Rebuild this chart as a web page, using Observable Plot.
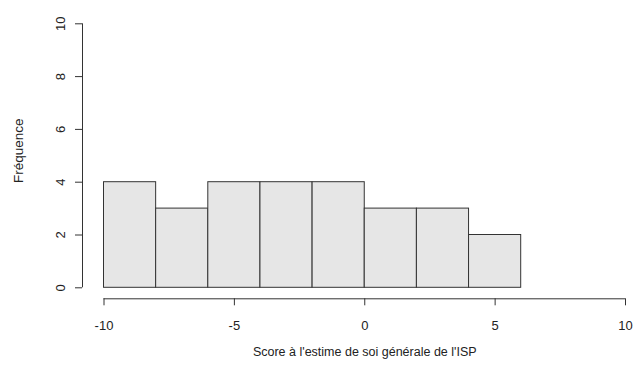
<!DOCTYPE html>
<html>
<head>
<meta charset="utf-8">
<script src="https://cdn.jsdelivr.net/npm/d3@7"></script>
<script src="https://cdn.jsdelivr.net/npm/@observablehq/plot@0.6"></script>
<style>
  html, body { margin: 0; padding: 0; background: #fff; }
  svg { display: block; }
</style>
</head>
<body>
<div id="chart"></div>
<script>
const binStarts = [-10, -8, -6, -4, -2, 0, 2, 4];
const binWidth = 2;
const counts = [4, 3, 4, 4, 4, 3, 3, 2];
const xTicks = [-10, -5, 0, 5, 10];
const yTicks = [0, 2, 4, 6, 8, 10];
const xTitle = "Score à l'estime de soi générale de l'ISP";
const yTitle = "Fréquence";

const bins = binStarts.map((s, i) => ({x1: s, x2: s + binWidth, count: counts[i]}));
const font = "Liberation Sans, Arial, sans-serif";

const chart = Plot.plot({
  width: 633,
  height: 371,
  marginLeft: 103.5,
  marginRight: 8,
  marginTop: 23.3,
  marginBottom: 83.7,
  style: {fontFamily: font, fontSize: "13px", color: "#000", background: "#fff"},
  x: {domain: [-10, 10], axis: null},
  y: {domain: [0, 10], axis: null},
  marks: [
    Plot.rectY(bins, {x1: "x1", x2: "x2", y: "count", fill: "#e6e6e6", stroke: "#333", strokeWidth: 1, inset: 0}),
    // y axis (offset left like R)
    Plot.ruleX([-10], {y1: 0, y2: 10, dx: -21.5, stroke: "#333"}),
    Plot.axisY({ticks: yTicks, anchor: "left", tickSize: 7, dx: -21.5, tickFormat: () => "", label: null, stroke: "#333", strokeOpacity: 1}),
    Plot.text(yTicks, {x: -10, y: d => d, text: d => String(d), dx: -43.5, rotate: -90, fill: "#222", fontSize: 13}),
    Plot.text([yTitle], {frameAnchor: "left", textAnchor: "middle", dx: -85.5, dy: -5, rotate: -90, fill: "#222", fontSize: 13.5}),
    // x axis (offset below like R)
    Plot.ruleY([0], {x1: -10, x2: 10, dy: 11, stroke: "#333"}),
    Plot.axisX({ticks: xTicks, anchor: "bottom", tickSize: 7, dy: 11, tickFormat: () => "", label: null, stroke: "#333", strokeOpacity: 1}),
    Plot.text(xTicks, {x: d => d, y: 0, text: d => String(d), dy: 38, fill: "#222", fontSize: 13}),
    Plot.text([xTitle], {frameAnchor: "bottom", dy: 68, fill: "#222", fontSize: 12.5})
  ]
});
document.getElementById("chart").appendChild(chart);
</script>
</body>
</html>
